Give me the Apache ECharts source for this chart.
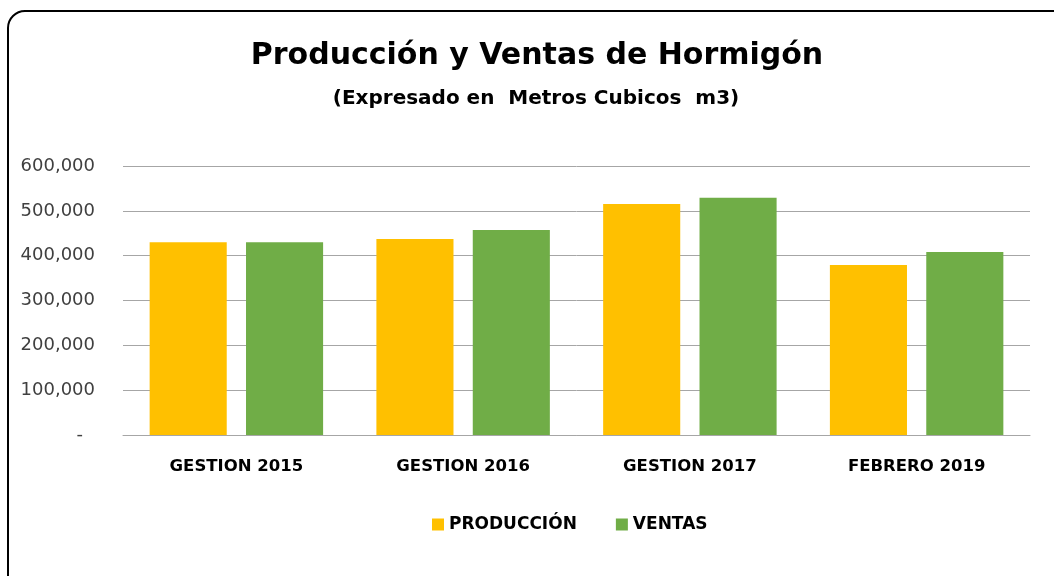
<!DOCTYPE html>
<html>
<head>
<meta charset="utf-8">
<script src="https://cdn.jsdelivr.net/npm/echarts@6/dist/echarts.min.js"></script>
<style>
	html,body{margin:0;padding:0;background:#fff;overflow:hidden;}
	.frame{position:absolute;left:7px;top:10px;width:1080px;height:600px;border:2.5px solid #000;border-radius:18px;box-sizing:border-box;}
	#chart{position:absolute;left:0;top:0;width:1054px;height:576px;}
</style>
</head>
<body>
<div class="frame"></div>
<div id="chart"></div>
<script>
	// datos
	var categorias = ['GESTION 2015', 'GESTION 2016', 'GESTION 2017', 'FEBRERO 2019'];
	var produccion = [430000, 437000, 515000, 379000];
	var ventas = [430000, 457000, 529000, 408000];
	var ticksY = [0, 100000, 200000, 300000, 400000, 500000, 600000];

	var fontB = '"DejaVu Sans", sans-serif';

	function fmt(v){
		if(v === 0) return '{d|-}';
		return v.toLocaleString('en-US');
	}

	var chart = echarts.init(document.getElementById('chart'));
	var option = {
		animation:false,
		color:['#FFC000','#70AD47'],
		title:[
			{
				text:'Producción y Ventas de Hormigón',
				left:537,
				textAlign:'center',
				top:41,
				padding:0,
				textStyle:{fontFamily:fontB, fontSize:30, fontWeight:'bold', color:'#000'}
			},
			{
				text:'(Expresado en  Metros Cubicos  m3)',
				left:536,
				textAlign:'center',
				top:89,
				padding:0,
				textStyle:{fontFamily:fontB, fontSize:20, fontWeight:'bold', color:'#000'}
			}
		],
		legend:{
			data:['PRODUCCIÓN','VENTAS'],
			left:432,
			top:516,
			padding:0,
			icon:'rect',
			itemWidth:12,
			itemHeight:12,
			itemGap:39,
			textStyle:{fontFamily:fontB, fontSize:17, fontWeight:'bold', color:'#000'}
		},
		grid:{left:123, right:24, top:166, bottom:141, containLabel:false},
		xAxis:{
			type:'category',
			data:categorias,
			axisLine:{lineStyle:{color:'#a6a6a6', width:1}},
			axisTick:{show:false},
			axisLabel:{fontFamily:fontB, fontSize:16.5, fontWeight:'bold', color:'#000', margin:23}
		},
		yAxis:{
			type:'value',
			min:0,
			max:600000,
			interval:100000,
			axisLine:{show:false},
			axisTick:{show:false},
			splitLine:{lineStyle:{color:'#a6a6a6', width:1}},
			axisLabel:{
				fontFamily:fontB,
				fontSize:18,
				color:'#404040',
				margin:28,
				formatter:function(v){ return ticksY.indexOf(v) >= 0 ? fmt(v) : ''; },
				rich:{d:{fontFamily:fontB, fontSize:18, color:'#404040', padding:[0,12,0,0]}}
			}
		},
		series:[
			{
				name:'PRODUCCIÓN',
				type:'bar',
				data:produccion,
				barWidth:'34%',
				barGap:'25%'
			},
			{
				name:'VENTAS',
				type:'bar',
				data:ventas,
				barWidth:'34%',
				barGap:'25%'
			}
		]
	};
	chart.setOption(option);
</script>
</body>
</html>
